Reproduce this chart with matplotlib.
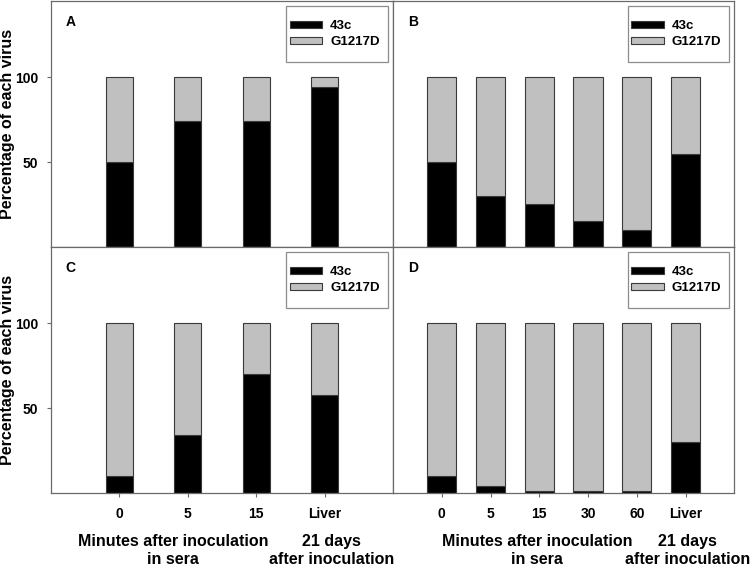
import matplotlib
matplotlib.use("Agg")
import matplotlib.pyplot as plt
from matplotlib.patches import Rectangle
import numpy as np

# valores (porcentaje de 43c; el resto es G1217D)
etiquetas_cortas = ["0", "5", "15", "Liver"]
etiquetas_largas = ["0", "5", "15", "30", "60", "Liver"]
a_43c = [50, 74, 74, 94]
b_43c = [50, 30, 25, 15, 10, 55]
c_43c = [10, 34, 70, 58]
d_43c = [10, 4, 1, 1, 1, 30]

plt.rcParams["font.family"] = ["Liberation Sans", "DejaVu Sans"]
plt.rcParams["font.weight"] = "bold"

fig = plt.figure(figsize=(7.5, 5.67), dpi=100)

izq, medio, der = 0.068, 0.524, 0.979
abajo, centro, arriba = 0.1305, 0.5644, 0.999

# (letra, datos, etiquetas, posicion, ancho barra, eje y, eje x, texto minutos, texto 21 dias)
paneles = [
    ("A", a_43c, etiquetas_cortas, [izq, centro, medio - izq, arriba - centro], 0.4, True, False, 0.78, 3.1),
    ("B", b_43c, etiquetas_largas, [medio, centro, der - medio, arriba - centro], 0.6, False, False, 1.96, 5.04),
    ("C", c_43c, etiquetas_cortas, [izq, abajo, medio - izq, centro - abajo], 0.4, True, True, 0.78, 3.1),
    ("D", d_43c, etiquetas_largas, [medio, abajo, der - medio, centro - abajo], 0.6, False, True, 1.96, 5.04),
]

borde = "#3a3a3a"
gris_eje = "#6a6a6a"
for letra, valores, etiquetas, pos, ancho, eje_y, eje_x, x_min, x_dias in paneles:
    ax = fig.add_axes(pos)
    x = np.arange(len(valores))
    resto = 100 - np.array(valores)
    ax.bar(x, valores, ancho, color="black", edgecolor=borde, linewidth=0.8, label="43c")
    ax.bar(x, resto, ancho, bottom=valores, color="#c0c0c0", edgecolor=borde, linewidth=0.8, label="G1217D")
    ax.set_xlim(-1, len(valores))
    ax.set_ylim(0, 145)
    for s in ax.spines.values():
        s.set_color(gris_eje)
        s.set_linewidth(0.9)
    ax.text(0.043, 0.915, letra, transform=ax.transAxes, va="center",
            fontsize=10, fontweight="bold")

    # marco de la leyenda dibujado aparte
    ax.add_patch(Rectangle((0.688, 0.75), 0.297, 0.228, transform=ax.transAxes,
                           facecolor="white", edgecolor="#8c8c8c", linewidth=0.9, zorder=3))
    leg = ax.legend(loc="center", bbox_to_anchor=(0.83, 0.864), fontsize=9.5, frameon=False,
                    handlelength=2.45, handleheight=0.45, borderpad=0, labelspacing=0.3,
                    handletextpad=0.6)
    leg.set_zorder(4)

    if eje_y:
        ax.set_yticks([50, 100])
        ax.tick_params(axis="y", labelsize=10, length=3, pad=6, direction="out", color=gris_eje)
        ax.set_ylabel("Percentage of each virus", fontsize=11.5, fontweight="bold", va="center")
        ax.yaxis.set_label_coords(-0.128, 0.5)
    else:
        ax.set_yticks([])
    if eje_x:
        ax.set_xticks(x)
        ax.set_xticklabels(etiquetas, fontsize=10, fontweight="bold")
        ax.tick_params(axis="x", length=3, direction="out", pad=7, color=gris_eje)
        tr = ax.get_xaxis_transform()
        ax.text(x_min, -0.197, "Minutes after inoculation", transform=tr,
                ha="center", va="center", fontsize=11.5, fontweight="bold")
        ax.text(x_min, -0.27, "in sera", transform=tr,
                ha="center", va="center", fontsize=11.5, fontweight="bold")
        ax.text(x_dias, -0.197, "21 days", transform=tr,
                ha="center", va="center", fontsize=11.5, fontweight="bold")
        ax.text(x_dias, -0.27, "after inoculation", transform=tr,
                ha="center", va="center", fontsize=11.5, fontweight="bold")
    else:
        ax.set_xticks([])

fig.savefig("out.png", dpi=100)
